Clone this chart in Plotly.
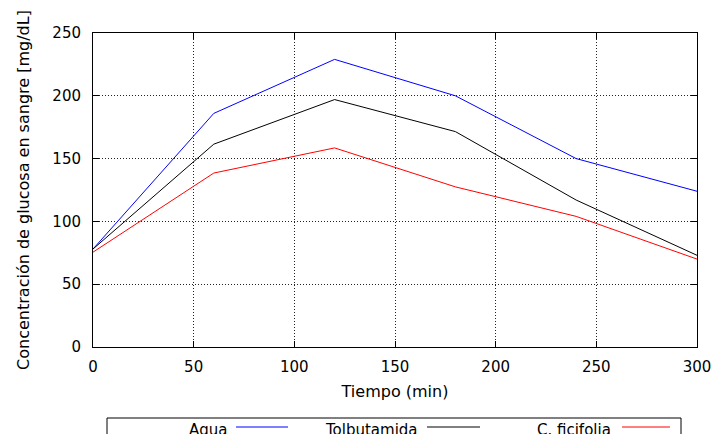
import plotly.graph_objects as go

tiempo = [0, 60, 120, 180, 240, 300]
agua = [78, 186, 229, 200, 150, 124]
tolbutamida = [78, 161.5, 197, 171.5, 117, 73]
ficifolia = [75.5, 138.5, 158.5, 127.5, 104, 70]
series_names = ["Agua", "Tolbutamida", "C. ficifolia"]
series_colors = ["#0000ff", "#000000", "#ff0000"]

FONT = "DejaVu Sans"
fig = go.Figure()
for name, vals, col in zip(series_names, [agua, tolbutamida, ficifolia], series_colors):
    fig.add_trace(go.Scatter(x=tiempo, y=vals, mode="lines", name=name,
                             line=dict(color=col, width=1), showlegend=False))

axis_common = dict(
    showline=True, linecolor="black", linewidth=1, mirror="ticks",
    ticks="inside", ticklen=6, tickcolor="black", tickwidth=1,
    showgrid=True, gridcolor="#222", gridwidth=1, griddash="1px,2px",
    zeroline=False, automargin=False,
    tickfont=dict(family=FONT, size=15, color="black"),
)
fig.update_xaxes(range=[0, 300], dtick=50, ticklabelstandoff=6,
                 title=dict(text="Tiempo (min)", font=dict(family=FONT, size=16, color="black"), standoff=10),
                 **axis_common)
fig.update_yaxes(range=[0, 250], dtick=50, ticklabelstandoff=8,
                 title=dict(text="Concentración de glucosa en sangre [mg/dL]", font=dict(family=FONT, size=16, color="black"), standoff=18),
                 **axis_common)

# plot area in page pixels: x 93..697, y 33..347
H = 314.0
def py(pix):
    return (347 - pix) / H
W = 604.0
def px(pix):
    return (pix - 93) / W

# gnuplot-style legend box below the plot (text, then line sample)
shapes = [dict(type="rect", xref="paper", yref="paper", x0=px(107), x1=px(681),
               y0=py(418), y1=py(460), line=dict(color="black", width=1))]
annots = []
entries = [(229, 236, 288), (420, 427, 480), (613, 622, 670)]
for (tx, l0, l1), name, col in zip(entries, series_names, series_colors):
    annots.append(dict(xref="paper", yref="paper", x=px(tx), y=py(430), text=name,
                       showarrow=False, xanchor="right", yanchor="middle",
                       font=dict(family=FONT, size=15, color="black")))
    shapes.append(dict(type="line", xref="paper", yref="paper", x0=px(l0), x1=px(l1),
                       y0=py(427), y1=py(427), line=dict(color=col, width=1)))

fig.update_layout(
    width=713, height=434,
    margin=dict(l=93, r=16, t=33, b=87),
    paper_bgcolor="white", plot_bgcolor="white",
    font=dict(family=FONT, size=15, color="black"),
    shapes=shapes, annotations=annots,
)
fig.write_html(
    "out.html",
    config={"displayModeBar": False},
    post_script="document.body.style.margin='0';document.body.style.overflow='hidden';"
                "document.documentElement.style.overflow='hidden';",
)
